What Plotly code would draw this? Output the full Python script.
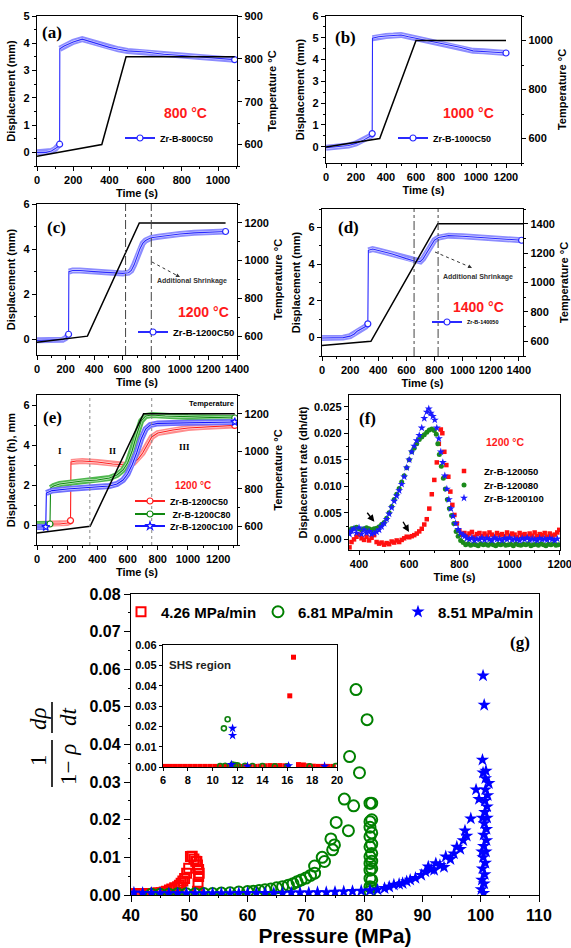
import plotly.graph_objects as go

W, H = 571, 948
SANS = "Liberation Sans, Arial, sans-serif"
SERIF = "Liberation Serif, Times New Roman, serif"

# ---------------- data ----------------
# (a) 800 °C
a_time = [0, 50, 80, 100, 115, 125, 126, 150, 200, 250, 300, 350, 400, 450, 500, 600, 700, 800, 900, 1000, 1092]
a_disp = [0.0, 0.0, 0.05, 0.12, 0.2, 0.3, 3.8, 3.9, 4.05, 4.15, 4.05, 3.95, 3.85, 3.78, 3.72, 3.68, 3.6, 3.55, 3.5, 3.45, 3.4]
a_temp_time = [0, 358, 492, 1092]
a_temp = [573, 600, 805, 805]

# (b) 1000 °C
b_time = [0, 100, 150, 200, 250, 300, 308, 310, 350, 400, 450, 500, 550, 600, 700, 800, 900, 980, 1050, 1100, 1200]
b_disp = [-0.05, 0.0, 0.05, 0.15, 0.3, 0.5, 0.6, 4.98, 5.05, 5.08, 5.1, 5.13, 5.05, 4.98, 4.85, 4.72, 4.55, 4.4, 4.38, 4.35, 4.3]
b_temp_time = [0, 358, 600, 1200]
b_temp = [565, 600, 1000, 1000]

# (c) 1200 °C
c_time = [0, 100, 180, 200, 215, 221, 223, 250, 300, 400, 500, 600, 640, 660, 680, 700, 720, 740, 760, 780, 800, 850, 900, 1000, 1100, 1200, 1320]
c_disp = [-0.05, -0.05, -0.02, 0.05, 0.12, 0.22, 3.0, 3.05, 3.05, 3.0, 2.95, 2.92, 2.95, 3.05, 3.3, 3.65, 4.0, 4.25, 4.38, 4.45, 4.5, 4.55, 4.6, 4.67, 4.72, 4.75, 4.78]
c_temp_time = [0, 353, 716, 1320]
c_temp = [568, 600, 1200, 1200]
c_marks = [620, 800]

# (d) 1400 °C
d_time = [0, 100, 150, 200, 230, 250, 280, 310, 326, 330, 360, 400, 500, 600, 680, 700, 720, 740, 760, 780, 800, 830, 900, 1000, 1100, 1200, 1300, 1420]
d_disp = [-0.02, -0.02, 0.0, 0.08, 0.2, 0.35, 0.48, 0.6, 0.75, 4.75, 4.82, 4.75, 4.55, 4.3, 4.12, 4.15, 4.3, 4.55, 4.8, 5.05, 5.3, 5.45, 5.55, 5.52, 5.47, 5.42, 5.36, 5.3]
d_temp_time = [0, 348, 824, 1430]
d_temp = [571, 600, 1400, 1400]
d_marks = [655, 826]

# (e) 1200 °C, three heating rates
e_red_time = [0, 100, 150, 200, 215, 222, 225, 260, 300, 400, 500, 600, 640, 670, 700, 730, 760, 800, 900, 1000, 1100, 1200, 1310]
e_red_disp = [0.05, 0.05, 0.05, 0.1, 0.15, 0.22, 3.15, 3.2, 3.2, 3.15, 3.05, 3.0, 3.1, 3.3, 3.6, 4.0, 4.4, 4.6, 4.75, 4.85, 4.9, 4.95, 4.98]
e_green_time = [0, 60, 86, 90, 110, 150, 200, 300, 400, 480, 530, 570, 600, 630, 660, 690, 720, 760, 850, 1000, 1150, 1310]
e_green_disp = [0.05, 0.05, 0.05, 1.85, 1.95, 2.05, 2.1, 2.2, 2.25, 2.35, 2.5, 2.75, 3.1, 3.7, 4.5, 5.2, 5.45, 5.5, 5.45, 5.4, 5.38, 5.35]
e_blue_time = [0, 40, 58, 62, 100, 200, 300, 400, 480, 530, 570, 600, 630, 660, 690, 720, 750, 800, 900, 1000, 1150, 1310]
e_blue_disp = [-0.1, -0.1, -0.1, 1.6, 1.72, 1.8, 1.85, 1.9, 1.95, 2.05, 2.25, 2.55, 3.0, 3.6, 4.3, 4.8, 5.0, 5.08, 5.1, 5.12, 5.14, 5.15]
e_temp_time = [0, 352, 706, 1310]
e_temp = [564, 600, 1200, 1200]
e_marks = [350, 760]

# (f) displacement rate (time s, dh/dt)
f_red = [(362, -0.0015), (370, -0.0005), (380, 0.0), (390, 0.0005), (400, 0.0009), (410, 0.0002), (420, -0.0001),
         (430, 0.0005), (440, -0.0002), (450, 0.0003), (460, 0.0008), (470, -0.0005), (480, -0.0008), (490, -0.0006),
         (500, -0.001), (510, -0.0007), (520, -0.0009), (530, -0.0004), (540, -0.0006), (550, -0.0002), (560, -0.0005),
         (570, -0.0001), (580, 0.0002), (590, 0.0005), (600, 0.0004), (610, 0.0006), (620, 0.0008), (630, 0.0011),
         (640, 0.0015), (650, 0.002), (660, 0.0028), (670, 0.0038), (680, 0.0058), (690, 0.0085), (700, 0.0112),
         (710, 0.0145), (718, 0.018), (726, 0.0207), (732, 0.02), (740, 0.0165), (748, 0.014), (756, 0.0118),
         (764, 0.009), (772, 0.0065), (780, 0.0046), (790, 0.003), (800, 0.0016), (810, 0.0009), (820, 0.0012),
         (830, 0.0006), (840, 0.0011), (850, 0.0014), (860, 0.0005), (870, 0.001), (880, 0.0012), (890, 0.0006),
         (900, 0.0011), (910, 0.0007), (920, 0.0013), (930, 0.0009), (940, 0.0005), (950, 0.0012), (960, 0.0008),
         (970, 0.001), (980, 0.0006), (990, 0.0013), (1000, 0.0007), (1010, 0.0011), (1020, 0.0009), (1030, 0.0004),
         (1040, 0.0012), (1050, 0.0008), (1060, 0.001), (1070, 0.0005), (1080, 0.0011), (1090, 0.0007), (1100, 0.0013),
         (1110, 0.0006), (1120, 0.001), (1130, 0.0008), (1140, 0.0012), (1150, 0.0005), (1160, 0.0011), (1170, 0.0007),
         (1180, 0.0009), (1190, 0.0013), (1198, 0.0018)]
f_green = [(362, 0.0015), (370, 0.002), (380, 0.0021), (390, 0.0023), (400, 0.002), (410, 0.0018), (420, 0.002),
           (430, 0.0022), (440, 0.002), (450, 0.0018), (460, 0.002), (470, 0.0021), (480, 0.0024), (490, 0.0028),
           (500, 0.0032), (510, 0.004), (520, 0.005), (530, 0.0062), (540, 0.0075), (550, 0.0085), (560, 0.0096),
           (570, 0.0108), (580, 0.012), (590, 0.0135), (600, 0.015), (610, 0.0165), (620, 0.0172), (630, 0.018),
           (640, 0.0188), (650, 0.0193), (660, 0.0197), (670, 0.0202), (680, 0.0206), (690, 0.0208), (700, 0.0205),
           (708, 0.0198), (714, 0.018), (720, 0.016), (728, 0.0138), (736, 0.0115), (744, 0.0095), (752, 0.0075),
           (760, 0.0058), (769, 0.0045), (778, 0.003), (787, 0.0015), (795, 0.0006), (805, -0.0002), (815, -0.0006),
           (825, -0.001), (835, -0.0008), (845, -0.0011), (855, -0.0009), (865, -0.001), (875, -0.0012), (885, -0.0008),
           (895, -0.001), (905, -0.0009), (915, -0.0011), (925, -0.0008), (935, -0.001), (945, -0.0012), (955, -0.0009),
           (965, -0.001), (975, -0.0008), (985, -0.0011), (995, -0.001), (1005, -0.0009), (1015, -0.0012), (1025, -0.0008),
           (1035, -0.001), (1045, -0.0011), (1055, -0.0009), (1065, -0.001), (1075, -0.0008), (1085, -0.0012),
           (1095, -0.001), (1105, -0.0009), (1115, -0.0011), (1125, -0.0008), (1135, -0.001), (1145, -0.0012),
           (1155, -0.0009), (1165, -0.001), (1175, -0.0008), (1185, -0.0011), (1195, -0.001)]
f_blue = [(362, 0.001), (370, 0.0016), (380, 0.002), (390, 0.0012), (400, 0.0022), (410, 0.001), (420, 0.0018),
          (430, 0.0012), (440, 0.0015), (450, 0.001), (460, 0.0012), (470, 0.0014), (480, 0.0018), (490, 0.0024),
          (500, 0.003), (510, 0.0038), (520, 0.0048), (530, 0.006), (540, 0.0072), (550, 0.0082), (560, 0.0092),
          (570, 0.0104), (580, 0.0118), (590, 0.0135), (600, 0.015), (610, 0.0165), (620, 0.0176), (630, 0.0186),
          (640, 0.0196), (650, 0.021), (660, 0.0228), (670, 0.024), (678, 0.0246), (686, 0.0238), (694, 0.0232),
          (702, 0.0225), (710, 0.021), (718, 0.019), (726, 0.0165), (734, 0.0145), (742, 0.012), (750, 0.0095),
          (758, 0.0075), (766, 0.0058), (775, 0.0044), (785, 0.003), (795, 0.0019), (805, 0.0012), (815, 0.0008),
          (822, 0.0006), (830, 0.0002), (840, 0.0), (850, 0.0003), (860, -0.0002), (870, 0.0001), (880, 0.0),
          (890, 0.0003), (900, -0.0001), (910, 0.0002), (920, 0.0), (930, -0.0002), (940, 0.0003), (950, 0.0),
          (960, 0.0001), (970, -0.0002), (980, 0.0002), (990, 0.0), (1000, 0.0003), (1010, -0.0001), (1020, 0.0001),
          (1030, 0.0), (1040, -0.0002), (1050, 0.0002), (1060, 0.0), (1070, 0.0003), (1080, -0.0001), (1090, 0.0001),
          (1100, 0.0), (1110, -0.0002), (1120, 0.0002), (1130, 0.0), (1140, 0.0001), (1150, -0.0001), (1160, 0.0002),
          (1170, 0.0), (1180, -0.0002), (1190, 0.0001)]
f_arrows = [(461, 0.0033, 428, 0.0053), (599, 0.0014, 572, 0.0036)]

# (g) densification rate vs pressure (MPa, 1/(1-rho) drho/dt)
g_red = [(40.2, 0.0003), (40.7, 0.0003), (41.2, 0.0003), (41.7, 0.0003), (42.2, 0.0003), (42.7, 0.0004), (43.2, 0.0004),
         (43.7, 0.0004), (44.2, 0.0005), (44.7, 0.0005), (45.2, 0.0006), (45.7, 0.0008), (46.1, 0.001), (46.6, 0.0013),
         (47.0, 0.0016), (47.5, 0.0019), (48.0, 0.0022), (48.3, 0.0026), (48.6, 0.0031), (48.9, 0.0037), (49.2, 0.0044),
         (49.55, 0.0058), (49.9, 0.0071), (50.2, 0.0102), (50.5, 0.0103), (50.8, 0.0096), (51.1, 0.009), (51.3, 0.0089),
         (51.4, 0.008), (51.6, 0.0068), (51.7, 0.0058), (51.6, 0.0049), (51.5, 0.003), (51.4, 0.001)]
g_green = [(43.5, 0.0002), (45, 0.0002), (46.5, 0.0002), (48, 0.0003), (49.5, 0.0003), (51, 0.0003), (52.5, 0.0004),
           (54, 0.0004), (55.5, 0.0005), (57, 0.0006), (58.5, 0.0008), (60, 0.0009), (61, 0.001), (62, 0.0012),
           (63, 0.0014), (64, 0.0016), (65, 0.0019), (66, 0.0022), (67, 0.0026), (67.8, 0.003), (68.5, 0.0035),
           (69.2, 0.004), (70, 0.0045), (70.8, 0.0052), (71.5, 0.0058), (71.5, 0.0077), (72.8, 0.01), (73.2, 0.0089),
           (74.3, 0.0149), (74.6, 0.012), (74.9, 0.0133), (75.2, 0.0193), (76.6, 0.0255), (77.3, 0.0171), (77.5, 0.0368),
           (78.2, 0.0237), (78.6, 0.0546), (79.2, 0.0325), (80.5, 0.0466),
           (81.0, 0.0244), (81.0, 0.0195), (81.0, 0.018), (81.0, 0.0155), (81.0, 0.0128), (81.0, 0.0102),
           (81.0, 0.0084), (81.0, 0.0066), (81.0, 0.0044), (81.0, 0.0022), (81.0, 0.0009),
           (81.3, 0.0244), (81.3, 0.02), (81.3, 0.0165), (81.3, 0.0135), (81.3, 0.011), (81.3, 0.009),
           (81.3, 0.007), (81.3, 0.004), (81.3, 0.002)]
g_blue = [(40.5, 0.0006), (42, 0.0005), (43.5, 0.0005), (45, 0.0004), (46.5, 0.0004), (48, 0.0004), (49.5, 0.0004),
          (51, 0.0004), (52.5, 0.0004), (54, 0.0004), (55.5, 0.0004), (57, 0.0004), (58.5, 0.0005), (60, 0.0005),
          (61.5, 0.0005), (63, 0.0005), (64.5, 0.0005), (66, 0.0005), (67.5, 0.0006), (69, 0.0006), (70.5, 0.0006),
          (72, 0.0007), (73.5, 0.0007), (75, 0.0008), (76.5, 0.0009), (78, 0.001), (79.5, 0.0011), (81, 0.0012),
          (82.3, 0.0014), (83.5, 0.0018), (84.3, 0.0022), (85.1, 0.0027), (86.0, 0.0029), (86.6, 0.0031),
          (87.3, 0.0036), (87.9, 0.004), (88.8, 0.0045), (89.8, 0.0053), (90.5, 0.0062), (91.0, 0.0075),
          (91.5, 0.0068), (92.0, 0.0066), (92.3, 0.0084), (93.0, 0.0079), (93.7, 0.0074), (94.0, 0.0102),
          (94.8, 0.0095), (95.4, 0.011), (95.9, 0.0128), (96.5, 0.0122), (97.0, 0.0145), (97.3, 0.0171),
          (97.6, 0.0157), (98.3, 0.0203), (99.2, 0.028), (99.7, 0.0255), (100.1, 0.0015), (100.2, 0.004),
          (100.3, 0.007), (100.3, 0.0359), (100.4, 0.01), (100.4, 0.0583), (100.5, 0.013), (100.5, 0.016),
          (100.6, 0.019), (100.6, 0.0505), (100.7, 0.022), (100.7, 0.025), (100.8, 0.028), (100.8, 0.031),
          (100.9, 0.033), (100.5, 0.0005), (100.6, 0.003), (100.7, 0.0055), (100.8, 0.0085), (100.9, 0.0115),
          (101.0, 0.0145), (101.0, 0.0175), (101.1, 0.0205), (101.1, 0.0235), (101.2, 0.0265), (101.4, 0.0297),
          (100.4, 0.0325), (100.3, 0.0205), (100.2, 0.0115)]
g_names = ["4.26 MPa/min", "6.81 MPa/min", "8.51 MPa/min"]

# inset: SHS region
in_red = [(6.2, 0.0003), (6.6, 0.0003), (7.0, 0.0003), (7.4, 0.0003), (7.8, 0.0003), (8.2, 0.0003), (8.6, 0.0003),
          (9.0, 0.0003), (9.4, 0.0003), (9.8, 0.0003), (10.2, 0.0003), (10.6, 0.0003), (11.0, 0.0003), (11.4, 0.0003),
          (11.8, 0.0003), (12.2, 0.0003), (12.6, 0.0003), (13.0, 0.0003), (13.4, 0.0003), (13.8, 0.0004), (14.2, 0.0006),
          (14.6, 0.0007), (15.0, 0.0007), (15.4, 0.0007), (15.8, 0.0006), (16.2, 0.035), (16.5, 0.054), (16.9, 0.0012),
          (17.3, 0.001), (17.7, 0.0006), (18.1, 0.0004), (18.5, 0.0003), (18.9, 0.0003), (19.3, 0.0003), (19.7, 0.0003)]
in_green = [(10.9, 0.019), (11.2, 0.0235), (10.6, 0.0005), (11.0, 0.0006), (11.6, 0.0012), (11.8, 0.0009),
            (12.0, 0.0008), (12.6, 0.0006), (13.2, 0.0005), (14.0, 0.0005), (15.0, 0.0004), (16.0, 0.0004),
            (17.8, 0.0004), (19.9, 0.0005)]
in_blue = [(11.6, 0.019), (11.6, 0.0155), (11.5, 0.0012), (12.8, 0.0004), (16.1, 0.0006), (19.0, 0.0004)]

# ---------------- helpers ----------------
def px(x):
    return x / W


def py(y):
    return 1 - y / H


def unzip(pairs):
    return [p[0] for p in pairs], [p[1] for p in pairs]


fig = go.Figure()


def add_disp(t, d, xa, ya, outer, inner, core, name, legend, symbol):
    k = max(range(len(d) - 1), key=lambda i: abs(d[i + 1] - d[i]))
    bt = t[:k + 1] + [None] + t[k + 1:]
    bd = d[:k + 1] + [None] + d[k + 1:]
    fig.add_trace(go.Scatter(x=bt, y=bd, xaxis=xa, yaxis=ya, mode='lines', line=dict(color=outer, width=6),
                             showlegend=False, hoverinfo='skip'))
    fig.add_trace(go.Scatter(x=bt, y=bd, xaxis=xa, yaxis=ya, mode='lines', line=dict(color=inner, width=2.4),
                             showlegend=False, hoverinfo='skip'))
    sizes = [6 if (i == k or i == len(t) - 1) else 1 for i in range(len(t))]
    ops = [1 if (i == k or i == len(t) - 1) else 0 for i in range(len(t))]
    fig.add_trace(go.Scatter(x=t, y=d, xaxis=xa, yaxis=ya, mode='lines+markers', line=dict(color=core, width=1.1),
                             marker=dict(symbol=symbol, size=sizes, opacity=ops, color='white',
                                         line=dict(color=core, width=1.2)),
                             showlegend=False))
    fig.add_trace(go.Scatter(x=[None], y=[None], xaxis=xa, yaxis=ya, mode='lines+markers', name=name,
                             legend=legend, line=dict(color=core, width=2),
                             marker=dict(symbol=symbol, size=6, color='white', line=dict(color=core, width=1.2)),
                             showlegend=True))


def add_temp(t, T, xa, ya):
    fig.add_trace(go.Scatter(x=t, y=T, xaxis=xa, yaxis=ya, mode='lines', line=dict(color='black', width=1.5),
                             showlegend=False))


BLUE = ('#8c8cff', '#dcdcff', '#2a2aff')
add_disp(a_time, a_disp, 'x', 'y', *BLUE, 'Zr-B-800C50', 'legend', 'circle')
add_temp(a_temp_time, a_temp, 'x', 'y2')
add_disp(b_time, b_disp, 'x2', 'y3', *BLUE, 'Zr-B-1000C50', 'legend2', 'circle')
add_temp(b_temp_time, b_temp, 'x2', 'y4')
add_disp(c_time, c_disp, 'x3', 'y5', *BLUE, 'Zr-B-1200C50', 'legend3', 'circle')
add_temp(c_temp_time, c_temp, 'x3', 'y6')
add_disp(d_time, d_disp, 'x4', 'y7', *BLUE, 'Zr-B-140050', 'legend4', 'circle')
add_temp(d_temp_time, d_temp, 'x4', 'y8')
add_disp(e_red_time, e_red_disp, 'x5', 'y9', '#ff8c8c', '#ffe0e0', '#ff2020', 'Zr-B-1200C50', 'legend5', 'circle')
add_disp(e_green_time, e_green_disp, 'x5', 'y9', '#4fb84f', '#c8ecc8', '#118811', ' Zr-B-1200C80', 'legend6', 'circle')
add_disp(e_blue_time, e_blue_disp, 'x5', 'y9', '#6f6fff', '#d6d6ff', '#1515ff', 'Zr-B-1200C100', 'legend7', 'star')
add_temp(e_temp_time, e_temp, 'x5', 'y10')

fx, fy = unzip(f_red)
fig.add_trace(go.Scatter(x=fx, y=fy, xaxis='x6', yaxis='y11', mode='markers', name='Zr-B-120050', legend='legend8',
                         marker=dict(symbol='square', size=4.5, color='#ff1010')))
fx, fy = unzip(f_green)
fig.add_trace(go.Scatter(x=fx, y=fy, xaxis='x6', yaxis='y11', mode='markers', name='Zr-B-120080', legend='legend9',
                         marker=dict(symbol='circle', size=5, color='#1a8a1a')))
fx, fy = unzip(f_blue)
fig.add_trace(go.Scatter(x=fx, y=fy, xaxis='x6', yaxis='y11', mode='markers', name='Zr-B-1200100', legend='legend10',
                         marker=dict(symbol='star', size=6, color='#1a1aff')))

gx, gy = unzip(g_red)
fig.add_trace(go.Scatter(x=gx, y=gy, xaxis='x7', yaxis='y12', mode='markers', name=g_names[0], legend='legend11',
                         marker=dict(symbol='square-open', size=9, color='#ff0000', line=dict(width=2))))
gx, gy = unzip(g_green)
fig.add_trace(go.Scatter(x=gx, y=gy, xaxis='x7', yaxis='y12', mode='markers', name=g_names[1], legend='legend12',
                         marker=dict(symbol='circle-open', size=11, color='#008000', line=dict(width=2))))
gx, gy = unzip(g_blue)
fig.add_trace(go.Scatter(x=gx, y=gy, xaxis='x7', yaxis='y12', mode='markers', name=g_names[2], legend='legend13',
                         marker=dict(symbol='star', size=10, color='#0000ff')))

ix, iy = unzip(in_red)
fig.add_trace(go.Scatter(x=ix, y=iy, xaxis='x8', yaxis='y13', mode='markers', showlegend=False,
                         marker=dict(symbol='square', size=5, color='#ff0000')))
ix, iy = unzip(in_green)
fig.add_trace(go.Scatter(x=ix, y=iy, xaxis='x8', yaxis='y13', mode='markers', showlegend=False,
                         marker=dict(symbol='circle-open', size=5, color='#108010', line=dict(width=1.6))))
ix, iy = unzip(in_blue)
fig.add_trace(go.Scatter(x=ix, y=iy, xaxis='x8', yaxis='y13', mode='markers', showlegend=False,
                         marker=dict(symbol='star', size=7, color='#0000ff')))

# ---------------- axes ----------------
def tfont(s):
    return dict(family=SANS, size=s, color='black', weight='bold')


def base_axis(rng, dt, minor, fs, title, tfs, standoff, tick0=0, fmt=None):
    ax = dict(range=rng, dtick=dt, tick0=tick0, showline=True, linecolor='black', linewidth=1.4, automargin=False,
              ticks='outside', ticklen=4, tickwidth=1.2, tickcolor='black', showgrid=False, zeroline=False,
              ticklabeloverflow='allow',
              tickfont=tfont(fs), title=dict(text=title, font=tfont(tfs), standoff=standoff))
    if minor:
        ax['minor'] = dict(dtick=minor, ticks='outside', ticklen=2, tickwidth=1, tickcolor='black', showgrid=False)
    if fmt:
        ax['tickformat'] = fmt
    return ax


panels = [
    # xid, ylid, yrid, xdom(px), ydom(px top,bottom), xrange, left range, left dtick, right range, right dtick, ylabel
    ('', '', '2', (37, 237), (16, 166), [0, 1105], [-0.5, 5], 1, [550, 900], 100, 'Displacement (mm)'),
    ('2', '3', '4', (326, 521), (16, 163), [0, 1300], [-0.75, 6], 1, [500, 1100], 200, 'Displacement (mm)'),
    ('3', '5', '6', (37, 237), (204, 355), [0, 1400], [-0.7, 6], 2, [500, 1300], 200, 'Displacement (mm)'),
    ('4', '7', '8', (322, 523), (209, 356), [0, 1430], [-1, 7], 2, [500, 1500], 200, 'Displacement (mm)'),
    ('5', '9', '10', (37, 237), (395, 545), [0, 1325], [-1, 6.5], 2, [500, 1300], 200, 'Displacement (h), mm'),
]

layout_axes = {}
for xid, ylid, yrid, xd, yd, xr, ylr, yldt, yrr, yrdt, ylab in panels:
    xdom = [px(xd[0]), px(xd[1])]
    ydom = [py(yd[1]), py(yd[0])]
    xa = base_axis(xr, 200, 100, 11, 'Time (s)', 11, 3)
    xa.update(domain=xdom, anchor='y' + ylid, mirror=True)
    yl = base_axis(ylr, yldt, yldt / 2, 11, ylab, 11, 5)
    yl.update(domain=ydom, anchor='x' + xid, side='left')
    yr = base_axis(yrr, yrdt, yrdt / 2, 11, 'Temperature °C', 11, 6)
    yr.update(overlaying='y' + ylid, anchor='x' + xid, side='right')
    layout_axes['xaxis' + xid] = xa
    layout_axes['yaxis' + ylid] = yl
    layout_axes['yaxis' + yrid] = yr

# (f)
xa = base_axis([360, 1201], 200, 100, 11, 'Time (s)', 11, 3)
xa.update(domain=[px(349), px(560)], anchor='y11', mirror=True)
ya = base_axis([-0.002, 0.0272], 0.005, 0.0025, 11, 'Displacement rate (dh/dt)', 11, 4, fmt='.3f')
ya.update(domain=[py(550), py(395)], anchor='x6', mirror=True)
layout_axes['xaxis6'] = xa
layout_axes['yaxis11'] = ya

# (g)
xa = base_axis([40, 110], 10, 5, 16, 'Pressure (MPa)', 21, 4)
xa.update(domain=[px(131), px(539)], anchor='y12', mirror=True, ticklen=6)
ya = base_axis([0, 0.08], 0.01, 0.005, 16, '', 11, 4, fmt='.2f')
ya.update(domain=[py(895), py(594)], anchor='x7', mirror=True, ticklen=6)
layout_axes['xaxis7'] = xa
layout_axes['yaxis12'] = ya

# inset
xa = base_axis([6, 20], 2, None, 11, '', 11, 2)
xa.update(domain=[px(163), px(337)], anchor='y13', mirror=True, ticklen=3)
ya = base_axis([0, 0.06], 0.01, None, 11, '', 11, 2, fmt='.2f')
ya.update(domain=[py(767), py(645)], anchor='x8', mirror=True, ticklen=3)
layout_axes['xaxis8'] = xa
layout_axes['yaxis13'] = ya

# ---------------- legends ----------------
def leg(xtext, ycen, size, pad=40):
    return dict(x=px(xtext - pad), y=py(ycen), xanchor='left', yanchor='middle', bgcolor='rgba(0,0,0,0)',
                borderwidth=0, itemwidth=30, font=dict(family=SANS, size=size, color='black', weight='bold'),
                itemclick=False)


legends = {
    'legend': leg(160, 138, 9),
    'legend2': leg(433, 138, 9),
    'legend3': leg(173, 332, 9.5),
    'legend4': leg(467, 322, 5.5),
    'legend5': leg(170, 501, 9),
    'legend6': leg(170, 514, 9),
    'legend7': leg(170, 526, 9),
    'legend8': leg(484, 471, 9.5),
    'legend9': leg(484, 485, 9.5),
    'legend10': leg(484, 498, 9.5),
    'legend11': leg(161, 612, 15),
    'legend12': leg(298, 612, 15),
    'legend13': leg(438, 612, 15),
}

# ---------------- annotations ----------------
ann = []


def note(txt, x, y, font, **kw):
    d = dict(text=txt, x=px(x), y=py(y), xref='paper', yref='paper', showarrow=False, xanchor='center',
             yanchor='middle', font=font)
    d.update(kw)
    ann.append(d)


for txt, x, y in [("(a)", 52, 33), ("(b)", 345, 38), ("(c)", 57, 227), ("(d)", 348, 228), ("(e)", 52, 417),
                  ("(f)", 367, 418), ("(g)", 520, 642)]:
    note(txt, x, y, dict(family=SERIF, size=17, color='black', weight='bold'))
for txt, x, y, s in [("800 °C", 185, 113, 14), ("1000 °C", 468, 113, 14), ("1200 °C", 203, 312, 14),
                     ("1400 °C", 478, 307, 14), ("1200 °C", 193, 485, 10), ("1200 °C", 505, 442, 10.5)]:
    note(txt, x, y, dict(family=SANS, size=s, color='#ff1a1a', weight='bold'))
note('Temperature', 212, 403, dict(family=SANS, size=7.5, color='black', weight='bold'))
for txt, x, y in [("I", 60, 451), ("II", 113, 451), ("III", 184, 447)]:
    note(txt, x, y, dict(family=SERIF, size=9, color='black', weight='bold'))
for x, y in [(192, 281), (478, 277)]:
    note('Additional Shrinkage', x, y, dict(family=SANS, size=7, color='#333333', weight='bold'))
for (x0, y0, x1, y1) in [(152, 262, 180, 277), (435, 252, 472, 268)]:
    ann.append(dict(text='', x=px(x1), y=py(y1), xref='paper', yref='paper', showarrow=True, arrowhead=2,
                    arrowsize=0.8, arrowwidth=1, arrowcolor='#333333', ax=-4, ay=-2))
for hx, hy, tx, ty in f_arrows:
    ann.append(dict(text='', x=hx, y=hy, xref='x6', yref='y11', ax=tx, ay=ty, axref='x6', ayref='y11',
                    showarrow=True, arrowhead=2, arrowsize=1, arrowwidth=1.4, arrowcolor='black'))
note('SHS region', 200, 665, dict(family=SANS, size=11.5, color='#222222', weight='bold'))
# y-axis label of (g): 1/(1-rho) * drho/dt
for txt, x, y in [("1", 38, 760), ("<i>dρ</i>", 38, 719), ("1− <i>ρ</i>", 68, 765), ("<i>dt</i>", 68, 717)]:
    note(txt, x, y, dict(family=SERIF, size=23, color='black'), textangle=-90)

# ---------------- shapes ----------------
shapes = []
for xv in c_marks:
    shapes.append(dict(type='line', xref='x3', yref='y5 domain', x0=xv, x1=xv, y0=0, y1=1,
                       line=dict(color='#444444', width=1, dash='dashdot')))
for xv in d_marks:
    shapes.append(dict(type='line', xref='x4', yref='y7 domain', x0=xv, x1=xv, y0=0, y1=1,
                       line=dict(color='#444444', width=1, dash='dashdot')))
for xv in e_marks:
    shapes.append(dict(type='line', xref='x5', yref='y9 domain', x0=xv, x1=xv, y0=0, y1=1,
                       line=dict(color='#888888', width=1, dash='dot')))
for (x0, y0, x1, y1) in [(152, 262, 178, 276), (435, 252, 470, 267)]:
    shapes.append(dict(type='line', xref='paper', yref='paper', x0=px(x0), y0=py(y0), x1=px(x1), y1=py(y1),
                       line=dict(color='#333333', width=1, dash='dot')))
for (y0, y1) in [(740, 787), (702, 733)]:
    shapes.append(dict(type='line', xref='paper', yref='paper', x0=px(52), x1=px(52), y0=py(y0), y1=py(y1),
                       line=dict(color='black', width=1.6)))

fig.update_layout(width=W, height=H, margin=dict(l=0, r=0, t=0, b=0), paper_bgcolor='white',
                  plot_bgcolor='white', showlegend=True, annotations=ann, shapes=shapes,
                  font=dict(family=SANS, color='black'), **layout_axes, **legends)

fig.write_html("out.html", config={'displayModeBar': False},
               post_script="document.body.style.margin='0';document.body.style.overflow='hidden';"
                           "document.documentElement.style.overflow='hidden';")
